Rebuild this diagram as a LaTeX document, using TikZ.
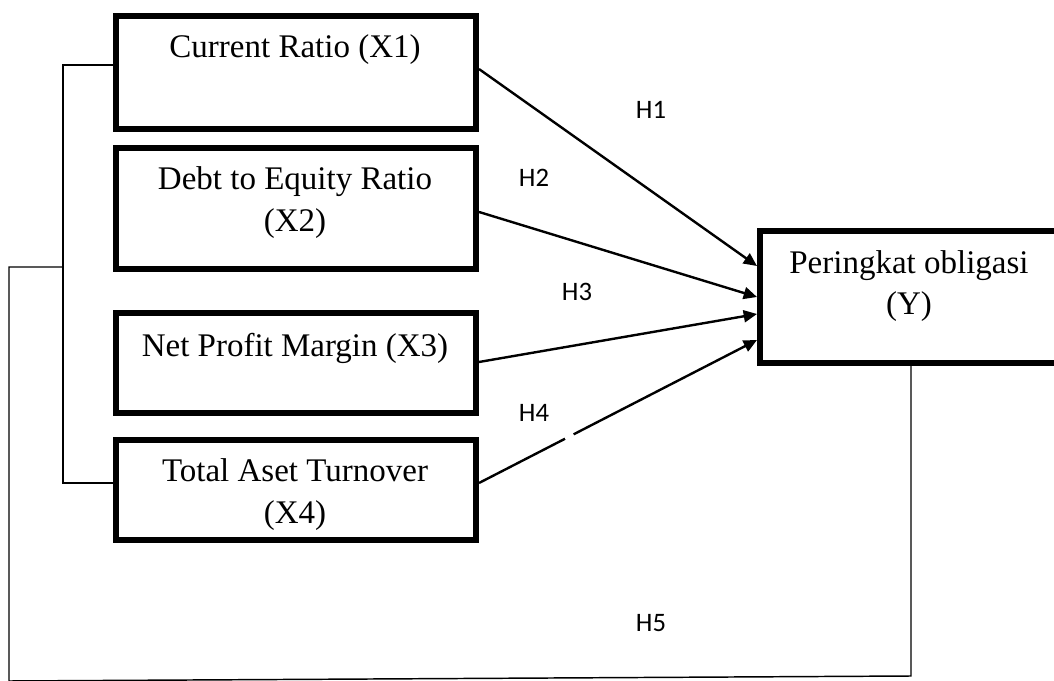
\documentclass[tikz,border=0pt]{standalone}
\usepackage{fontspec}
\setmainfont{Liberation Serif}
\newfontfamily\hfont{Carlito}
\usetikzlibrary{arrows.meta,calc}
\begin{document}
\begin{tikzpicture}[x=0.75pt,y=-0.75pt,
  box/.style={draw, line width=4.5pt, minimum width=270pt, inner sep=0pt},
  lbl/.style={font=\fontsize{24.75}{31.5}\selectfont, align=center, anchor=base, inner sep=0pt},
  hyp/.style={font=\hfont\fontsize{20}{24}\selectfont, inner sep=0pt},
  arr/.style={line width=1.8pt, -{Triangle[length=10pt,width=9pt]}},
  thinl/.style={line width=1.1pt}
]
\useasboundingbox (0,0) rectangle (1054,681);
\clip (0,0) rectangle (1054,681);

% boxes
\node[box, minimum height=84.75pt] (x1) at (296,72.5) {};
\node[box, minimum height=90.75pt] (x2) at (296,208.5) {};
\node[box, minimum height=75pt] (x3) at (296,363) {};
\node[box, minimum height=75pt] (x4) at (296,490) {};
\node[box, minimum width=223.5pt, minimum height=99pt] (y) at (909,297) {};

% box texts (anchor = baseline of last line)
\node[lbl] (t1) at (295,58) {Current Ratio (X1)};
\node[lbl] (t2) at (295,232) {Debt to Equity Ratio\\(X2)};
\node[lbl] (t3) at (295,356) {Net Profit Margin (X3)};
\node[lbl] (t4) at (295,523) {Total Aset Turnover\\(X4)};
\node[lbl] (ty) at (909,315) {Peringkat obligasi\\(Y)};

% hypothesis labels
\node[hyp] (h1) at (651,110) {H1};
\node[hyp] (h2) at (534,178) {H2};
\node[hyp] (h3) at (577,292) {H3};
\node[hyp] (h4) at (534,413) {H4};
\node[hyp] (h5) at (651,623) {H5};

% arrows
\draw[arr] ([yshift=2.6pt]x1.east) -- ([yshift=23.25pt]y.west);
\draw[arr] ([yshift=-2.6pt]x2.east) -- (y.west);
\draw[arr] ([yshift=0.75pt]x3.east) -- ([yshift=-12.75pt]y.west);
\draw[arr] ([yshift=5.25pt]x4.east) -- ([yshift=-32.25pt]y.west);
\path ([yshift=5.25pt]x4.east) -- ([yshift=-32.25pt]y.west)
  coordinate[pos=0.31] (g1) coordinate[pos=0.34] (g2);
\draw[white, line width=3pt] (g1) -- (g2);

% bracket and simultaneous path
\coordinate (b1) at (63,65);
\coordinate (b2) at (63,483);
\coordinate (b3) at (63,267);
\coordinate (c1) at (9,267);
\coordinate (c2) at (9,681);
\coordinate (c3) at (911,676);
\draw[thinl] (x1.west |- b1) -- (b1) -- (b2) -- (x4.west |- b2);
\draw[thinl] (b3) -- (c1) -- (c2) -- (c3) -- (c3 |- y.south);
\end{tikzpicture}
\end{document}
